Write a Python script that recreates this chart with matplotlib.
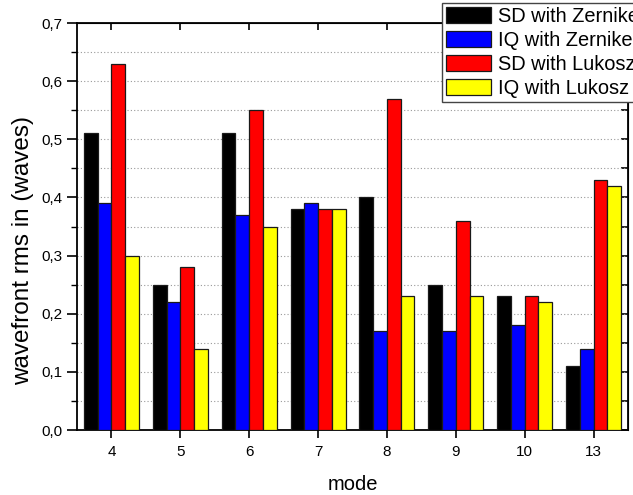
import matplotlib
matplotlib.use('Agg')
import matplotlib.pyplot as plt
import numpy as np
from matplotlib.ticker import MultipleLocator, FuncFormatter

MODES = ['4', '5', '6', '7', '8', '9', '10', '13']
SERIES = ['SD with Zernike', 'IQ with Zernike', 'SD with Lukosz', 'IQ with Lukosz']
SD_ZERNIKE = [0.51, 0.25, 0.51, 0.38, 0.40, 0.25, 0.23, 0.11]
IQ_ZERNIKE = [0.39, 0.22, 0.37, 0.39, 0.17, 0.17, 0.18, 0.14]
SD_LUKOSZ = [0.63, 0.28, 0.55, 0.38, 0.57, 0.36, 0.23, 0.43]
IQ_LUKOSZ = [0.30, 0.14, 0.35, 0.38, 0.23, 0.23, 0.22, 0.42]
COLORS = ['#000000', '#0000ff', '#ff0000', '#ffff00']

plt.rcParams['font.family'] = ['Liberation Sans', 'DejaVu Sans']

fig = plt.figure(figsize=(6.33, 4.95), dpi=100)
ax = fig.add_axes([77 / 633, 65 / 495, 551 / 633, 407 / 495])

x = np.arange(len(MODES))
w = 0.2
for i, (vals, name) in enumerate(zip([SD_ZERNIKE, IQ_ZERNIKE, SD_LUKOSZ, IQ_LUKOSZ], SERIES)):
    ax.bar(x + (i - 1.5) * w, vals, w, color=COLORS[i], edgecolor='#1a1a1a',
           linewidth=0.9, label=name, zorder=3)

ax.set_xlim(-0.5, len(MODES) - 0.5)
ax.set_ylim(0, 0.7)
ax.set_xticks(x)
ax.set_xticklabels(MODES)
ax.yaxis.set_major_locator(MultipleLocator(0.1))
ax.yaxis.set_minor_locator(MultipleLocator(0.05))
ax.yaxis.set_major_formatter(FuncFormatter(lambda v, p: f'{v:.1f}'.replace('.', ',')))
ax.tick_params(axis='y', which='major', direction='out', length=7, width=1.2,
               labelsize=11, pad=3.5)
ax.tick_params(axis='x', which='major', direction='out', length=6, width=1.2,
               labelsize=11, pad=5)
ax.tick_params(axis='y', which='minor', direction='out', length=4, width=1.0)
for s in ax.spines.values():
    s.set_linewidth(1.3)

# grid on every 0.05
for yv in np.arange(0.05, 0.7, 0.05):
    ax.axhline(yv, color='#999999', linestyle=(0, (1, 2)), linewidth=0.8, zorder=1)

# inward ticks on top and right
top = ax.secondary_xaxis('top')
top.set_xticks(x)
top.tick_params(direction='in', length=5, width=1.2, labeltop=False)
right = ax.secondary_yaxis('right')
right.yaxis.set_major_locator(MultipleLocator(0.05))
right.tick_params(direction='in', length=5, width=1.2, labelright=False)

ax.set_xlabel('mode', fontsize=14.5, labelpad=11)
ax.set_ylabel('wavefront rms in (waves)', fontsize=17.5)
ax.yaxis.set_label_coords(-0.078, 0.442)

fig.legend(loc='upper left', bbox_to_anchor=(442 / 633, 1 - 3 / 495),
           fontsize=14.4, frameon=True, fancybox=False, borderpad=0.2,
           handlelength=2.25, handleheight=0.8, handletextpad=0.35,
           labelspacing=0.25, borderaxespad=0, edgecolor='#444444', framealpha=1)

fig.savefig('out.png', dpi=100)
